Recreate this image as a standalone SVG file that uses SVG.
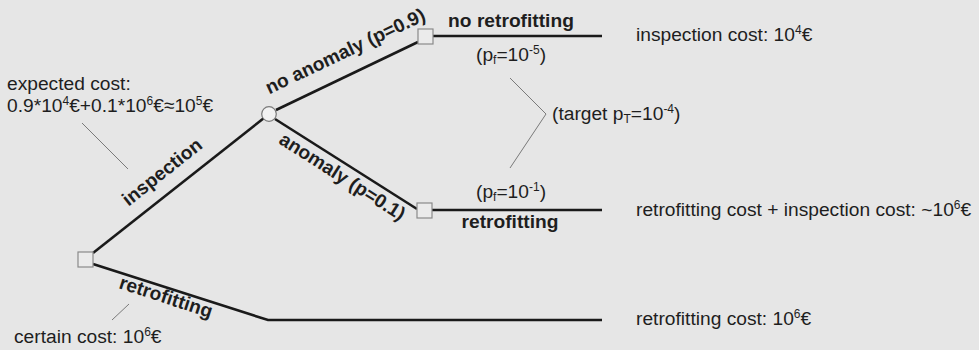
<svg xmlns="http://www.w3.org/2000/svg" width="979" height="350" viewBox="0 0 979 350">
<style>
text{font-family:"Liberation Sans",Arial,sans-serif;font-size:19.2px;fill:#1e1e1e}
.b{font-weight:bold}
.br{stroke:#1a1a1a;stroke-width:2.6;fill:none}
.thin{stroke:#7a7a7a;stroke-width:1;fill:none}
.sq{fill:#ebebeb;stroke:#8a8a8a;stroke-width:1.2}
.ci{fill:#f2f2f2;stroke:#7a7a7a;stroke-width:1.2}
</style>
<rect width="979" height="350" fill="#e6e6e6"/>
<g id="connectors">
<polyline class="br" points="93,253 264,118"/>
<polyline class="br" points="276,110 418,42"/>
<polyline class="br" points="433,36 602,36"/>
<polyline class="br" points="275,119 417,209"/>
<polyline class="br" points="432,210 602,210"/>
<polyline class="br" points="93,264 268,320 602,320"/>
<line class="thin" x1="82" y1="123" x2="128" y2="169"/>
<line class="thin" x1="129" y1="304" x2="112" y2="320"/>
<polyline class="thin" points="510,78 546,114 510,168"/>
<text class="b" transform="translate(166,177) rotate(-38.5)" text-anchor="middle">inspection</text>
<text class="b" transform="translate(348,57) rotate(-25.4)" text-anchor="middle">no anomaly (p=0.9)</text>
<text class="b" transform="translate(339,182) rotate(32.7)" text-anchor="middle">anomaly (p=0.1)</text>
<text class="b" transform="translate(164,303) rotate(18.1)" text-anchor="middle">retrofitting</text>
<text class="b" x="511" y="27" text-anchor="middle">no retrofitting</text>
<text class="b" x="510" y="228" text-anchor="middle">retrofitting</text>
</g>
<g id="root"><rect class="sq" x="78" y="252" width="15" height="15"/></g>
<g id="chance"><circle class="ci" cx="269" cy="114" r="7.3"/></g>
<g id="decision-no-anomaly"><rect class="sq" x="418" y="29" width="15" height="15"/></g>
<g id="decision-anomaly"><rect class="sq" x="417" y="203" width="15" height="15"/></g>
<g id="labels">
<text x="7" y="90">expected cost:</text>
<text x="7" y="112">0.9*10<tspan dy="-7" font-size="12">4</tspan><tspan dy="7">€+0.1*10</tspan><tspan dy="-7" font-size="12">6</tspan><tspan dy="7">€≈10</tspan><tspan dy="-7" font-size="12">5</tspan><tspan dy="7">€</tspan></text>
<text x="476" y="61">(p<tspan dy="3" font-size="12">f</tspan><tspan dy="-3">=10</tspan><tspan dy="-7" font-size="12">-5</tspan><tspan dy="7">)</tspan></text>
<text x="552" y="120">(target p<tspan dy="3" font-size="12">T</tspan><tspan dy="-3">=10</tspan><tspan dy="-7" font-size="12">-4</tspan><tspan dy="7">)</tspan></text>
<text x="476" y="198">(p<tspan dy="3" font-size="12">f</tspan><tspan dy="-3">=10</tspan><tspan dy="-7" font-size="12">-1</tspan><tspan dy="7">)</tspan></text>
<text x="636" y="41">inspection cost: 10<tspan dy="-7" font-size="12">4</tspan><tspan dy="7">€</tspan></text>
<text x="636" y="216">retrofitting cost + inspection cost: ~10<tspan dy="-7" font-size="12">6</tspan><tspan dy="7">€</tspan></text>
<text x="636" y="325">retrofitting cost: 10<tspan dy="-7" font-size="12">6</tspan><tspan dy="7">€</tspan></text>
<text x="14" y="343">certain cost: 10<tspan dy="-7" font-size="12">6</tspan><tspan dy="7">€</tspan></text>
</g>
</svg>
